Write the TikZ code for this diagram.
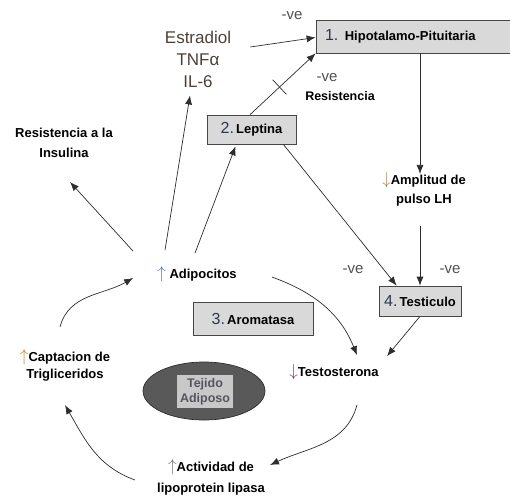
\documentclass[tikz,border=0pt]{standalone}
\usepackage{fontspec}
\setmainfont{Liberation Sans}
\usetikzlibrary{arrows.meta,shapes.geometric,positioning}

\definecolor{linegray}{RGB}{45,45,45}
\definecolor{boxfill}{RGB}{217,217,217}
\definecolor{boxline}{RGB}{70,70,70}
\definecolor{numblue}{RGB}{45,55,80}
\definecolor{hormtext}{RGB}{75,65,58}
\definecolor{vegray}{RGB}{80,80,80}
\definecolor{ellfill}{RGB}{89,89,89}
\definecolor{ellline}{RGB}{45,45,45}
\definecolor{tejfill}{RGB}{200,200,200}
\definecolor{tejtext}{RGB}{85,85,95}
\definecolor{upblue}{RGB}{70,120,180}
\definecolor{uporange}{RGB}{200,130,60}
\definecolor{downpurple}{RGB}{130,60,110}
\definecolor{upgray}{RGB}{110,110,110}

\tikzstyle{arrow} = [->,>={Latex[length=9pt,width=7pt]},draw=linegray,line width=0.7pt]
\tikzstyle{box} = [draw=boxline,fill=boxfill,line width=0.7pt,inner sep=0pt,font=\fontsize{13}{14}\selectfont\bfseries]
\tikzstyle{lbl} = [align=center,inner sep=2pt]
\tikzstyle{ve} = [text=vegray,font=\fontsize{15}{15}\selectfont,inner sep=0pt]

\newcommand{\boxnum}[1]{{\fontsize{16}{16}\mdseries\selectfont\color{numblue}#1}}
\newcommand{\chg}[2]{{\fontsize{17}{17}\selectfont\textcolor{#1}{$#2$}}}

\begin{document}
\begin{tikzpicture}[x=1pt,y=1pt]
\useasboundingbox (0,0) rectangle (510,-495);

% boxes
\node[box,minimum height=33pt,text width=178pt,inner xsep=9pt,align=left] (hp) at (414,-36.5) {\boxnum{1.} Hipotalamo-Pituitaria};
\node[box,minimum width=89pt,minimum height=29pt] (lep) at (251.5,-129.5) {\boxnum{2.}\,Leptina};
\node[box,minimum width=120pt,minimum height=33pt] (arom) at (253,-318.5) {\boxnum{3.}\,Aromatasa};
\node[box,minimum width=82pt,minimum height=30pt] (tes) at (420,-301) {\boxnum{4.}\,Testiculo};

% texts
\node[lbl,text=hormtext,font=\fontsize{17}{22}\selectfont] (est) at (198,-59) {Estradiol\\TNFα\\IL-6};
\node[ve] (ve1) at (292,-16) {-ve};
\node[ve] (ve2) at (327,-78) {-ve};
\node[lbl,font=\fontsize{12.5}{14}\selectfont\bfseries] (res) at (340,-96) {Resistencia};
\node[lbl,font=\fontsize{13}{20}\selectfont\bfseries] (ins) at (64,-143) {Resistencia a la\\Insulina};
\node[lbl,font=\fontsize{13}{19}\selectfont\bfseries] (lh) at (424,-189) {\chg{uporange!70!gray}{\downarrow}Amplitud de\\pulso LH};
\node[ve] (ve3) at (353,-270) {-ve};
\node[ve] (ve4) at (450,-270) {-ve};
\node[lbl,font=\fontsize{13}{14}\selectfont\bfseries] (adi) at (197,-274) {\chg{upblue}{\uparrow} Adipocitos};
\node[lbl,font=\fontsize{13}{17}\selectfont\bfseries] (capt) at (65,-365) {\chg{uporange}{\uparrow}Captacion de\\Trigliceridos};
\node[lbl,font=\fontsize{13}{14}\selectfont\bfseries] (tst) at (334,-372) {\chg{downpurple}{\downarrow}Testosterona};
\node[lbl,font=\fontsize{13}{21}\selectfont\bfseries] (act) at (211,-477) {\chg{upgray}{\uparrow}Actividad de\\lipoprotein lipasa};

% tejido adiposo
\node[ellipse,draw=ellline,fill=ellfill,line width=0.7pt,minimum width=122pt,minimum height=58pt] (ell) at (204,-391) {};
\node[fill=tejfill,minimum width=56pt,minimum height=33pt,inner sep=0pt,align=center,text=tejtext,font=\fontsize{12.5}{15}\selectfont\bfseries] (tej) at (205,-391.5) {Tejido\\Adiposo};

% arrows
\draw[arrow] ([xshift=17pt,yshift=12pt]est.east) -- ([yshift=-1pt]hp.west);
\draw[arrow] ([xshift=-1.5pt]lep.north) -- (hp.south west)
  node[pos=0.45,sloped,draw=linegray,line width=0.7pt,minimum width=0pt,minimum height=20pt,inner sep=0pt] (tick) {};
\draw[arrow] (hp.south -| tes.north) -- ([yshift=-4pt]lh.north -| tes.north);
\draw[arrow] ([yshift=-18pt]lh.south -| tes.north) -- (tes.north);
\draw[arrow] ([xshift=-13pt]lep.south east) -- ([xshift=18pt]tes.north west);
\draw[arrow] ([xshift=-22pt,yshift=13pt]adi.north west) -- ([xshift=6pt,yshift=-22pt]ins.south);
\draw[arrow] ([xshift=-32pt,yshift=14pt]adi.north) -- ([xshift=-8pt,yshift=-6pt]est.south);
\draw[arrow] ([xshift=-2pt,yshift=11pt]adi.north) -- ([xshift=-16pt,yshift=-2pt]lep.south);
\draw[arrow] ([xshift=33pt,yshift=-3pt]adi.east) to[out=-20,in=112] ([xshift=23pt,yshift=7pt]tst.north);
\draw[arrow] (tes.south) -- ([xshift=53pt,yshift=6pt]tst.north);
\draw[arrow] ([xshift=23pt,yshift=-23pt]tst.south) to[out=-105,in=25] ([xshift=3pt,yshift=12pt]act.east);
\draw[arrow] ([xshift=-20pt,yshift=-3pt]act.west) to[out=160,in=-60] ([yshift=-22pt]capt.south west -| capt.south);
\draw[arrow] ([xshift=-5pt,yshift=20pt]capt.north) to[out=75,in=-150] ([xshift=-22pt,yshift=-4pt]adi.west);
\end{tikzpicture}
\end{document}
